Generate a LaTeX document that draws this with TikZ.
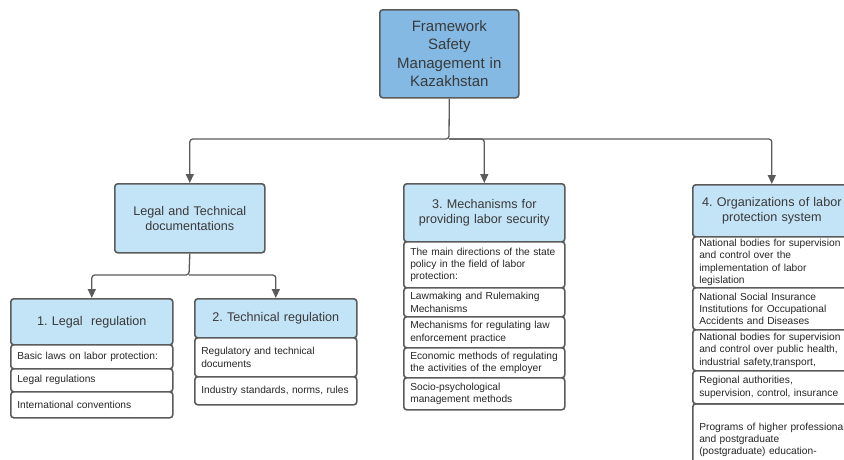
\documentclass[tikz,border=0pt]{standalone}
\usepackage{fontspec}
\setmainfont{Liberation Sans}
\usetikzlibrary{arrows.meta}
\definecolor{darkblue}{HTML}{83B9E3}
\definecolor{lightblue}{HTML}{C3E3F6}
\definecolor{linegray}{HTML}{5B5B5B}
\definecolor{textgray}{HTML}{3A3A3A}
\frenchspacing
\hyphenpenalty=10000
\hbadness=10000

\begin{document}
\begin{tikzpicture}[x=1pt,y=-1pt,
    topbox/.style={draw=linegray, line width=1.6pt, rounded corners=3pt, fill=darkblue, text=textgray, anchor=north west, align=center, inner sep=0pt, font=\fontsize{15}{18.5}\selectfont},
    headbox/.style={draw=linegray, line width=1.6pt, rounded corners=3pt, fill=lightblue, text=textgray, anchor=north west, align=center, inner sep=0pt, font=\fontsize{12.6}{14.5}\selectfont},
    itembox/.style={draw=linegray, line width=1.6pt, rounded corners=3pt, fill=white, text=black!85, anchor=north west, align=left, inner xsep=6.5pt, inner ysep=0pt, font=\fontsize{10.2}{12.4}\selectfont},
    conn/.style={draw=linegray, line width=1.3pt, rounded corners=3pt, -{Triangle[length=9pt,width=8pt]}}]
            \useasboundingbox (0,0) rectangle (844,459);

            % top of the tree
            \node[topbox, text width=139pt, minimum height=88pt] (frame) at (379,9) {Framework\\Safety\\Management in\\Kazakhstan};
            \node[headbox, text width=150pt, minimum height=69pt] (legtech) at (114,183) {Legal and Technical\\documentations};

            % 1. legal regulation
            \node[headbox, text width=162pt, minimum height=46pt] (legal) at (10,298) {1. Legal\ \ regulation};
            \node[itembox, text width=149pt, minimum height=24pt] (legal1) at (10,344) {Basic laws on labor protection:};
            \node[itembox, text width=149pt, minimum height=23pt] (legal2) at (10,368) {Legal regulations};
            \node[itembox, text width=149pt, minimum height=26pt] (legal3) at (10,391) {International conventions};

            % 2. technical regulation
            \node[headbox, text width=162pt, minimum height=39pt] (tech) at (194,298) {2. Technical regulation};
            \node[itembox, text width=149pt, minimum height=39pt] (tech1) at (194,337) {Regulatory and technical\\documents};
            \node[itembox, text width=149pt, minimum height=28pt] (tech2) at (194,376) {Industry standards, norms, rules};

            % 3. mechanisms
            \node[headbox, text width=161pt, minimum height=58pt] (mech) at (403,183) {3. Mechanisms for\\providing labor security};
            \node[itembox, text width=148pt, minimum height=46pt] (mech1) at (403,241) {The main directions of the state\\policy in the field of labor\\protection:};
            \node[itembox, text width=148pt, minimum height=29pt] (mech2) at (403,287) {Lawmaking and Rulemaking\\Mechanisms};
            \node[itembox, text width=148pt, minimum height=31pt] (mech3) at (403,316) {Mechanisms for regulating law\\enforcement practice};
            \node[itembox, text width=148pt, minimum height=30pt] (mech4) at (403,347) {Economic methods of regulating\\the activities of the employer};
            \node[itembox, text width=148pt, minimum height=32pt] (mech5) at (403,377) {Socio-psychological\\management methods};

            % 4. organizations (runs past the right edge)
            \node[headbox, text width=158pt, minimum height=52pt] (org) at (692,184) {4. Organizations of labor\\protection system};
            \node[itembox, text width=160pt, minimum height=51pt] (org1) at (692,236) {National bodies for supervision\\and control over the\\implementation of labor\\legislation};
            \node[itembox, text width=160pt, minimum height=42pt] (org2) at (692,287) {National Social Insurance\\Institutions for Occupational\\Accidents and Diseases};
            \node[itembox, text width=160pt, minimum height=41pt] (org3) at (692,329) {National bodies for supervision\\and control over public health,\\industrial safety,transport,};
            \node[itembox, text width=160pt, minimum height=72pt] (org5) at (692,403) {Programs of higher professional\\and postgraduate\\(postgraduate) education-};
            \node[itembox, text width=160pt, minimum height=33pt] (org4) at (692,370) {Regional authorities,\\supervision, control, insurance};

            % connectors
            \coordinate (busa) at (449,139);
            \coordinate (busb) at (189,275);
            \draw[conn] (frame.south) -- (busa) -| (legtech.north);
            \draw[conn] (busa) -| (mech.north);
            \draw[conn] (busa) -| (org.north);
            \draw[conn] (legtech.south) -- (busb) -| (legal.north);
            \draw[conn] (busb) -| (tech.north);
        \end{tikzpicture}
\end{document}
